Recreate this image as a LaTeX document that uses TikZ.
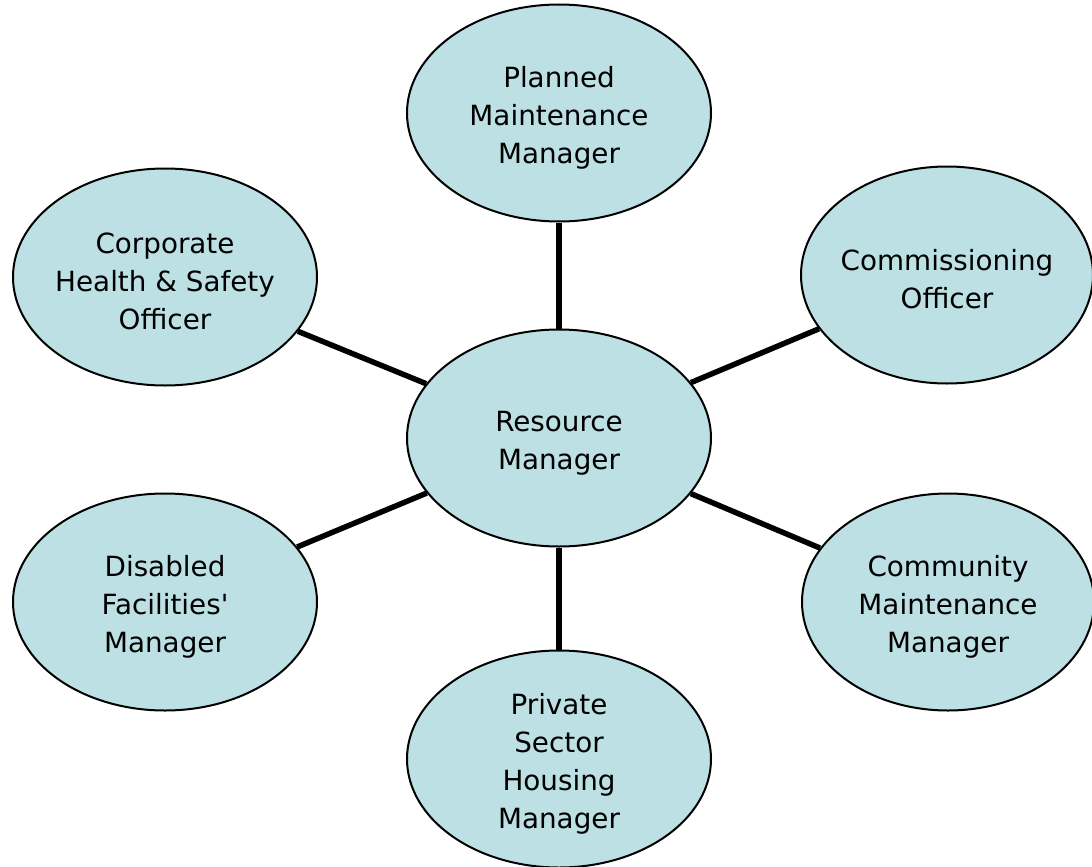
\documentclass[tikz,border=0pt]{standalone}
\usepackage{fontspec}
\setmainfont{DejaVu Sans}
\usetikzlibrary{shapes.geometric}
\definecolor{bubble}{RGB}{188,224,227}
\newcommand{\lift}{\rule{0pt}{30pt}}

\begin{document}
\begin{tikzpicture}[
    x=1pt, y=-1pt,
    role/.style  = {ellipse, draw, line width=2pt, fill=bubble,
                    minimum width=304pt, minimum height=217pt,
                    inner xsep=-14pt, inner ysep=0pt,
                    align=center, font=\fontsize{27.8}{38}\selectfont},
    narrow/.style = {minimum width=292pt},
    link/.style  = {line width=5.5pt},
]
\useasboundingbox (0,0) rectangle (1092,867);
\node [role] (res) at (559,438) {\lift Resource\\Manager};
\node [role] (plan) at (559,113) {\lift Planned\\Maintenance\\Manager};
\node [role,narrow] (comm) at (947,275) {\lift Commissioning\\Officer};
\node [role] (corp) at (165,277) {\lift Corporate\\Health \& Safety\\Officer};
\node [role] (dis) at (165,602) {\lift Disabled\\Facilities\textquotesingle\\Manager};
\node [role,narrow] (cmty) at (948,602) {\lift Community\\Maintenance\\Manager};
\node [role] (priv) at (559,759) {\lift Private\\Sector\\Housing\\Manager};
% links stop at the ellipse borders
\draw [link] (res) -- (plan);
\draw [link] (res) -- (comm);
\draw [link] (res) -- (corp);
\draw [link] (res) -- (dis);
\draw [link] (res) -- (cmty);
\draw [link] (res) -- (priv);
\end{tikzpicture}
\end{document}
